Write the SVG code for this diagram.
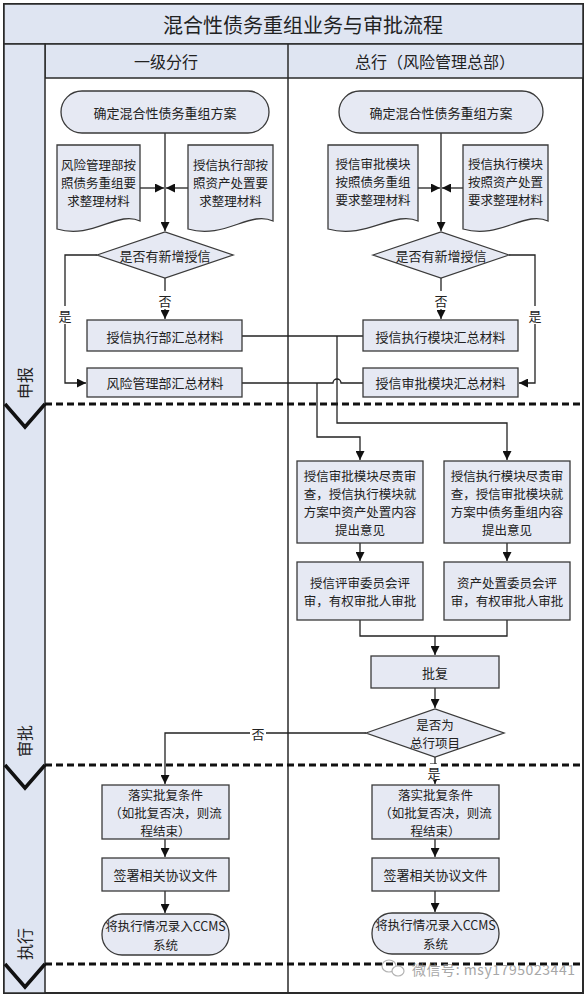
<svg xmlns="http://www.w3.org/2000/svg" width="588" height="997" viewBox="0 0 588 997">
<defs>
<marker id="ah" viewBox="0 0 10 10" refX="10" refY="5" markerWidth="9" markerHeight="9" markerUnits="userSpaceOnUse" orient="auto"><path d="M0,0 L10,5 L0,10 z" fill="#111"/></marker>
</defs>
<style>
.band{fill:#dfe5f2;stroke:#2a2a2a;stroke-width:1.5}
.node{fill:#e6e9f3;stroke:#3a3a3a;stroke-width:1.3}
.t{font-family:"Noto Sans CJK SC","Liberation Sans",sans-serif;font-size:13px;fill:#222;text-anchor:middle;dominant-baseline:central}
.m{font-size:12.5px}
.h{font-family:"Noto Sans CJK SC","Liberation Sans",sans-serif;fill:#222;text-anchor:middle;dominant-baseline:central}
.conn{fill:none;stroke:#222;stroke-width:1.3}
.arr{fill:none;stroke:#222;stroke-width:1.3;marker-end:url(#ah)}
.dash{fill:none;stroke:#111;stroke-width:3;stroke-dasharray:7 4}
.chev{fill:none;stroke:#111;stroke-width:3.5}
.lbl{fill:#fff}
</style>
<!-- frame & lanes -->
<g id="lanes">
<rect x="4" y="4" width="579" height="989" fill="#fff" stroke="#2a2a2a" stroke-width="2"/>
<rect class="band" x="4" y="4" width="579" height="40"/>
<rect class="band" x="45" y="44" width="538" height="34"/>
<rect class="band" x="4" y="44" width="41" height="949"/>
<line x1="288" y1="44" x2="288" y2="993" stroke="#2a2a2a" stroke-width="1.5"/>
<text class="h" x="303" y="24" font-size="20">混合性债务重组业务与审批流程</text>
<text class="h" x="166" y="61" font-size="16">一级分行</text>
<text class="h" x="435" y="61" font-size="16">总行（风险管理总部）</text>
<line class="dash" x1="45" y1="404" x2="583" y2="404"/>
<line class="dash" x1="45" y1="765" x2="583" y2="765"/>
<line class="dash" x1="45" y1="964" x2="583" y2="964"/>
<polyline class="chev" points="5,404 25,427 45,404"/>
<polyline class="chev" points="5,765 25,788 45,765"/>
<polyline class="chev" points="5,964 25,987 45,964"/>
<text class="h" font-size="16" transform="translate(24,383) rotate(-90)">申报</text>
<text class="h" font-size="16" transform="translate(24,741) rotate(-90)">审批</text>
<text class="h" font-size="16" transform="translate(24,944) rotate(-90)">执行</text>
</g>
<!-- connectors -->
<g id="connectors">
<line class="arr" x1="165" y1="133" x2="165" y2="231"/>
<line class="arr" x1="140" y1="188" x2="164" y2="188"/>
<line class="arr" x1="188" y1="188" x2="166" y2="188"/>
<line class="arr" x1="165" y1="278" x2="165" y2="319"/>
<path class="arr" d="M97,255 H65 V383 H86"/>
<line class="arr" x1="441" y1="133" x2="441" y2="231"/>
<line class="arr" x1="418" y1="188" x2="440" y2="188"/>
<line class="arr" x1="463" y1="188" x2="442" y2="188"/>
<line class="arr" x1="441" y1="278" x2="441" y2="319"/>
<path class="arr" d="M509,255 H535 V383 H519"/>
<path class="conn" d="M242,336 H363"/>
<path class="arr" d="M337,336 V423 H507 V460"/>
<path class="conn" d="M242,383 H317"/>
<path class="conn" d="M363,383 H341 A4,4 0 0 0 333,383 H317"/>
<path class="arr" d="M317,383 V437 H360 V460"/>
<line class="arr" x1="360" y1="543" x2="360" y2="561"/>
<line class="arr" x1="507" y1="543" x2="507" y2="561"/>
<path class="conn" d="M360,620 V636 H507 V620"/>
<line class="arr" x1="435" y1="636" x2="435" y2="655"/>
<line class="arr" x1="435" y1="688" x2="435" y2="708"/>
<path class="arr" d="M366,733 H165 V784"/>
<line class="arr" x1="435" y1="757" x2="435" y2="784"/>
<line class="arr" x1="165" y1="839" x2="165" y2="857"/>
<line class="arr" x1="435" y1="839" x2="435" y2="857"/>
<line class="arr" x1="165" y1="891" x2="165" y2="913"/>
<line class="arr" x1="435" y1="891" x2="435" y2="912"/>
<rect class="lbl" x="158" y="291" width="14" height="18"/>
<text class="t" x="165" y="300">否</text>
<rect class="lbl" x="58" y="306" width="14" height="18"/>
<text class="t" x="65" y="315">是</text>
<rect class="lbl" x="434" y="291" width="14" height="18"/>
<text class="t" x="441" y="300">否</text>
<rect class="lbl" x="528" y="306" width="14" height="18"/>
<text class="t" x="535" y="315">是</text>
<rect class="lbl" x="250" y="725" width="16" height="16"/>
<text class="t" x="258" y="733">否</text>
<rect class="lbl" x="427" y="764" width="14" height="16"/>
<text class="t" x="434" y="772">是</text>
</g>
<!-- left column nodes -->
<g id="l_start"><rect class="node" x="61" y="91" width="208" height="42" rx="21"/><text class="t" x="165" y="112">确定混合性债务重组方案</text></g>
<g id="l_doc1"><path class="node" d="M57,145 H140 V221 C118,210 92,240 57,229 Z"/>
<text class="t m" x="98.5" y="164">风险管理部按<tspan x="98.5" dy="18">照债务重组要</tspan><tspan x="98.5" dy="18">求整理材料</tspan></text></g>
<g id="l_doc2"><path class="node" d="M188,145 H273 V221 C250,210 224,240 188,229 Z"/>
<text class="t m" x="230.5" y="164">授信执行部按<tspan x="230.5" dy="18">照资产处置要</tspan><tspan x="230.5" dy="18">求整理材料</tspan></text></g>
<g id="l_dec"><polygon class="node" points="97,255 165,232 233,255 165,278"/><text class="t" x="165" y="255">是否有新增授信</text></g>
<g id="l_box1"><rect class="node" x="87" y="320" width="155" height="31"/><text class="t" x="165" y="336">授信执行部汇总材料</text></g>
<g id="l_box2"><rect class="node" x="87" y="368" width="155" height="29"/><text class="t" x="165" y="382.5">风险管理部汇总材料</text></g>
<!-- right column nodes -->
<g id="r_start"><rect class="node" x="339" y="91" width="204" height="42" rx="21"/><text class="t" x="441" y="112">确定混合性债务重组方案</text></g>
<g id="r_doc1"><path class="node" d="M328,145 H418 V221 C394,210 366,240 328,229 Z"/>
<text class="t m" x="373" y="163">授信审批模块<tspan x="373" dy="18">按照债务重组</tspan><tspan x="373" dy="18">要求整理材料</tspan></text></g>
<g id="r_doc2"><path class="node" d="M463,145 H548 V221 C525,210 499,240 463,229 Z"/>
<text class="t m" x="505.5" y="163">授信执行模块<tspan x="505.5" dy="18">按照资产处置</tspan><tspan x="505.5" dy="18">要求整理材料</tspan></text></g>
<g id="r_dec"><polygon class="node" points="373,255 441,232 509,255 441,278"/><text class="t" x="441" y="255">是否有新增授信</text></g>
<g id="r_box1"><rect class="node" x="363" y="320" width="155" height="31"/><text class="t" x="440.5" y="336">授信执行模块汇总材料</text></g>
<g id="r_box2"><rect class="node" x="363" y="368" width="155" height="29"/><text class="t" x="440.5" y="382.5">授信审批模块汇总材料</text></g>
<!-- approval -->
<g id="rev1"><rect class="node" x="297" y="461" width="126" height="82"/>
<text class="t m" x="360" y="475">授信审批模块尽责审<tspan x="360" dy="18">查，授信执行模块就</tspan><tspan x="360" dy="18">方案中资产处置内容</tspan><tspan x="360" dy="18">提出意见</tspan></text></g>
<g id="rev2"><rect class="node" x="444" y="461" width="126" height="82"/>
<text class="t m" x="507" y="475">授信执行模块尽责审<tspan x="507" dy="18">查，授信审批模块就</tspan><tspan x="507" dy="18">方案中债务重组内容</tspan><tspan x="507" dy="18">提出意见</tspan></text></g>
<g id="com1"><rect class="node" x="297" y="562" width="126" height="58"/>
<text class="t m" x="360" y="582">授信评审委员会评<tspan x="360" dy="18">审，有权审批人审批</tspan></text></g>
<g id="com2"><rect class="node" x="444" y="562" width="126" height="58"/>
<text class="t m" x="507" y="582">资产处置委员会评<tspan x="507" dy="18">审，有权审批人审批</tspan></text></g>
<g id="reply"><rect class="node" x="371" y="656" width="128" height="32"/><text class="t" x="435" y="672">批复</text></g>
<g id="hq_dec"><polygon class="node" points="366,733 435,709 504,733 435,757"/>
<text class="t m" x="435" y="724">是否为<tspan x="435" dy="18">总行项目</tspan></text></g>
<!-- execution -->
<g id="l_exec1"><rect class="node" x="102" y="785" width="127" height="54"/>
<text class="t m" x="165.5" y="794">落实批复条件<tspan x="165.5" dy="18">（如批复否决，则流</tspan><tspan x="165.5" dy="18">程结束）</tspan></text></g>
<g id="l_exec2"><rect class="node" x="102" y="858" width="127" height="33"/><text class="t" x="165.5" y="874.5">签署相关协议文件</text></g>
<g id="l_exec3"><rect class="node" x="102" y="914" width="127" height="41" rx="20"/>
<text class="t m" x="165.5" y="925.5">将执行情况录入CCMS<tspan x="165.5" dy="18">系统</tspan></text></g>
<g id="r_exec1"><rect class="node" x="372" y="785" width="127" height="54"/>
<text class="t m" x="435.5" y="794">落实批复条件<tspan x="435.5" dy="18">（如批复否决，则流</tspan><tspan x="435.5" dy="18">程结束）</tspan></text></g>
<g id="r_exec2"><rect class="node" x="372" y="858" width="127" height="33"/><text class="t" x="435.5" y="874.5">签署相关协议文件</text></g>
<g id="r_exec3"><rect class="node" x="372" y="913" width="127" height="41" rx="20"/>
<text class="t m" x="435.5" y="924.5">将执行情况录入CCMS<tspan x="435.5" dy="18">系统</tspan></text></g>
<!-- watermark -->
<g id="watermark" opacity="0.75">
<ellipse cx="389" cy="966" rx="7" ry="6" fill="none" stroke="#999" stroke-width="1.2"/>
<ellipse cx="398" cy="971" rx="6" ry="5" fill="#fff" stroke="#999" stroke-width="1.2"/>
<text x="412" y="969" font-family="'Noto Sans CJK SC','Liberation Sans',sans-serif" font-size="14" fill="#8a8a8a" dominant-baseline="central" textLength="163" lengthAdjust="spacing">微信号: msy1795023441</text>
</g>
</svg>
